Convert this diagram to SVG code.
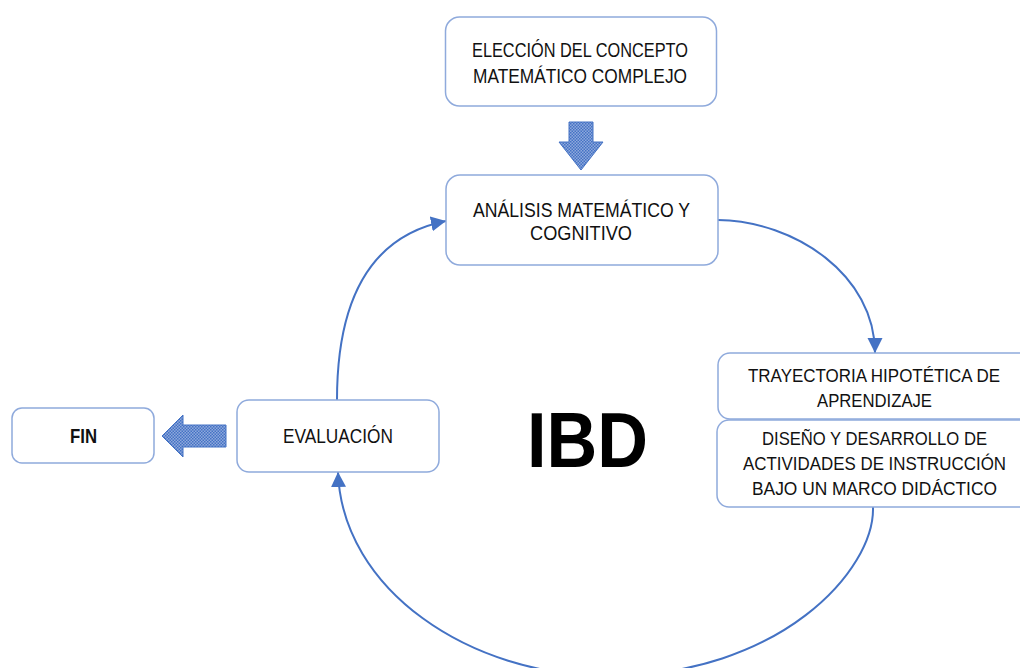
<svg xmlns="http://www.w3.org/2000/svg" width="1020" height="668" viewBox="0 0 1020 668">
<defs>
<style>
.box{fill:#fff;stroke:#8FAADC;stroke-width:1.5}
.t{font-family:"Liberation Sans",Arial,sans-serif;font-size:20px;fill:#111;text-anchor:middle}
.r{font-size:17.5px}
.conn{fill:none;stroke:#4472C4;stroke-width:2}
.blk{fill:url(#chk);stroke:#4472C4;stroke-width:1}
</style>
<pattern id="chk" width="3" height="3" patternUnits="userSpaceOnUse">
<rect width="3" height="3" fill="#8FA9DC"/>
<rect width="1.5" height="1.5" fill="#4472C4"/>
<rect x="1.5" y="1.5" width="1.5" height="1.5" fill="#4472C4"/>
</pattern>
<marker id="ah" markerUnits="userSpaceOnUse" markerWidth="16" markerHeight="16" refX="15" refY="7.5" orient="auto">
<path d="M0,0 L15,7.5 L0,15 z" fill="#4472C4"/>
</marker>
</defs>

<g id="connectors">
<path class="conn" d="M718,220 C795,221 875,275 875,353" marker-end="url(#ah)"/>
<path class="conn" d="M337,400 C337,300 370,236 446,221" marker-end="url(#ah)"/>
<path class="conn" d="M873,507 C875,570 780,676 608,676 C470,676 342,590 338,472" marker-end="url(#ah)"/>
<polygon class="blk" points="569,122 593,122 593,142 603,142 581,170 559,142 569,142"/>
<polygon class="blk" points="226,425 183,425 183,415 162,436 183,457 183,447 226,447"/>
</g>

<g id="n-eleccion">
<rect class="box" x="445.5" y="17" width="271" height="89" rx="14"/>
<text class="t" x="580" y="57" textLength="216" lengthAdjust="spacingAndGlyphs">ELECCIÓN DEL CONCEPTO</text>
<text class="t" x="580" y="83" textLength="214" lengthAdjust="spacingAndGlyphs">MATEMÁTICO COMPLEJO</text>
</g>

<g id="n-analisis">
<rect class="box" x="446" y="175" width="272" height="90" rx="14"/>
<text class="t" x="581.5" y="217" textLength="217" lengthAdjust="spacingAndGlyphs">ANÁLISIS MATEMÁTICO Y</text>
<text class="t" x="581" y="240" textLength="102" lengthAdjust="spacingAndGlyphs">COGNITIVO</text>
</g>

<g id="n-trayectoria">
<path class="box" d="M1020,353 H730 A12,12 0 0 0 718,365 V407 A12,12 0 0 0 730,419 H1020"/>
<text class="t r" x="874" y="382" textLength="252" lengthAdjust="spacingAndGlyphs">TRAYECTORIA HIPOTÉTICA DE</text>
<text class="t r" x="874.5" y="407" textLength="115" lengthAdjust="spacingAndGlyphs">APRENDIZAJE</text>
</g>

<g id="n-diseno">
<path class="box" d="M1020,420 H729 A12,12 0 0 0 717,432 V495 A12,12 0 0 0 729,507 H1020"/>
<text class="t r" x="874.5" y="445" textLength="225" lengthAdjust="spacingAndGlyphs">DISEÑO Y DESARROLLO DE</text>
<text class="t r" x="874.5" y="470" textLength="263" lengthAdjust="spacingAndGlyphs">ACTIVIDADES DE INSTRUCCIÓN</text>
<text class="t r" x="874.5" y="495" textLength="245" lengthAdjust="spacingAndGlyphs">BAJO UN MARCO DIDÁCTICO</text>
</g>

<g id="n-evaluacion">
<rect class="box" x="237" y="400" width="202" height="72" rx="12"/>
<text class="t" x="338" y="443" textLength="110" lengthAdjust="spacingAndGlyphs">EVALUACIÓN</text>
</g>

<g id="n-fin">
<rect class="box" x="12" y="408" width="142" height="55" rx="10"/>
<text class="t" x="83.5" y="443" font-weight="bold" textLength="27" lengthAdjust="spacingAndGlyphs">FIN</text>
</g>

<g id="n-ibd">
<text x="587.5" y="467" font-family="'Liberation Sans',Arial,sans-serif" font-size="77" font-weight="bold" fill="#000" text-anchor="middle" textLength="121" lengthAdjust="spacingAndGlyphs">IBD</text>
</g>
</svg>
